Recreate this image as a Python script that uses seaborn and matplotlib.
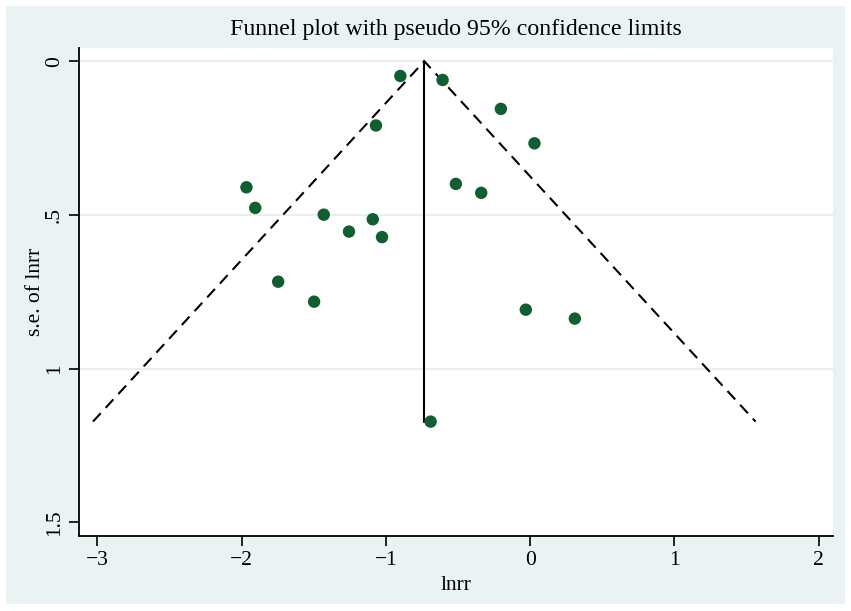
import numpy as np
import pandas as pd
import matplotlib
matplotlib.use('Agg')
import matplotlib.pyplot as plt
import seaborn as sns
from matplotlib.patches import Rectangle

# effect sizes (lnrr) and standard errors
lnrr = [-0.900, -0.607, -0.203, 0.030, -1.069, -1.967, -1.906, -0.515, -0.339,
        -1.431, -1.091, -1.256, -1.027, -1.747, -1.498, -0.030, 0.310, -0.690]
se_lnrr = [0.048, 0.061, 0.155, 0.267, 0.209, 0.410, 0.477, 0.399, 0.428,
           0.499, 0.514, 0.554, 0.572, 0.717, 0.782, 0.808, 0.837, 1.172]
pooled = -0.734
x_ticks = [-3, -2, -1, 0, 1, 2]
y_ticks = [0, 0.5, 1, 1.5]
y_tick_labels = ['0', '.5', '1', '1.5']

df = pd.DataFrame({'lnrr': lnrr, 'se': se_lnrr})

sns.set_theme(style='white')
plt.rcParams['font.family'] = ['Liberation Serif', 'DejaVu Serif']
plt.rcParams['axes.unicode_minus'] = True
plt.rcParams['text.color'] = 'black'
plt.rcParams['axes.labelcolor'] = 'black'
plt.rcParams['xtick.color'] = 'black'
plt.rcParams['ytick.color'] = 'black'

W, H = 851, 611
fig = plt.figure(figsize=(W / 100, H / 100), dpi=100, facecolor='white')
fig.patches.append(Rectangle((6 / W, 1 - 604 / H), (845 - 6) / W, (604 - 6) / H,
                             transform=fig.transFigure, facecolor='#eaf2f3',
                             edgecolor='none', zorder=-10))

ax = fig.add_axes([79 / W, 1 - 536 / H, (833 - 79) / W, (536 - 48) / H])
ax.set_facecolor('white')

# pseudo 95% confidence limits
se_max = max(se_lnrr)
ax.plot([pooled - 1.96 * se_max, pooled, pooled + 1.96 * se_max], [se_max, 0, se_max],
        color='black', lw=1.5, dashes=(5.5, 3.5), zorder=3)
ax.plot([pooled, pooled], [0, se_max], color='black', lw=1.5, zorder=3)

for yv in y_ticks[:-1]:
    ax.axhline(yv, color='#e3ecee', lw=1.2, zorder=1)

sns.scatterplot(data=df, x='lnrr', y='se', ax=ax, color='#0f5f31', s=80,
                edgecolor='none', zorder=4)

ax.set_xlim(-3.128, 2.10)
ax.set_ylim(1.544, -0.043)
ax.set_xticks(x_ticks)
ax.set_yticks(y_ticks)
ax.set_yticklabels(y_tick_labels, rotation=90, va='center')
ax.tick_params(axis='both', which='both', direction='out', length=7, width=1.2,
               color='black', labelsize=15.5, pad=4, bottom=True, left=True)

for side in ['top', 'right']:
    ax.spines[side].set_visible(False)
for side in ['left', 'bottom']:
    ax.spines[side].set_color('black')
    ax.spines[side].set_linewidth(1.3)

ax.set_xlabel('lnrr', fontsize=15.5, labelpad=4)
ax.set_ylabel('s.e. of lnrr', fontsize=15.5, labelpad=0)
fig.text(456 / W, 1 - 30 / H, 'Funnel plot with pseudo 95% confidence limits',
         ha='center', va='center', fontsize=17.2)

plt.savefig('out.png', dpi=100)
